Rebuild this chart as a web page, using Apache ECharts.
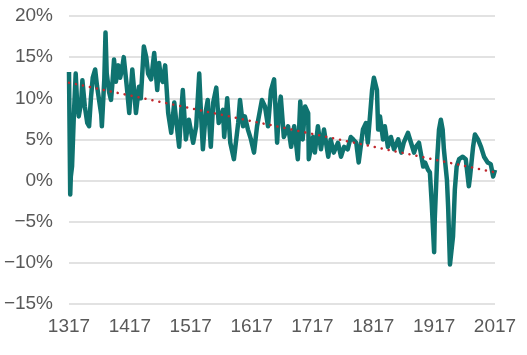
<!DOCTYPE html>
<html>
<head>
<meta charset="utf-8">
<script src="https://cdn.jsdelivr.net/npm/echarts@6/dist/echarts.min.js"></script>
<style>
  html, body { margin: 0; padding: 0; background: #fff; }
  #chart { width: 527px; height: 355px; }
</style>
</head>
<body>
<div id="chart"></div>
<script>
// years and values (%)
const years = [
  1317, 1319, 1320, 1322, 1325, 1328, 1330, 1333, 1337, 1339, 1343, 1347, 1350, 1353, 1356, 1360,
  1363, 1366, 1370, 1371, 1375, 1377, 1379, 1383, 1386, 1388, 1391, 1394, 1398, 1401, 1404, 1407,
  1412, 1416, 1421, 1424, 1427, 1432, 1435, 1440, 1444, 1447, 1452, 1457, 1462, 1465, 1468, 1471,
  1475, 1480, 1485, 1490, 1493, 1498, 1501, 1504, 1509, 1514, 1521, 1526, 1531, 1534, 1537, 1542,
  1545, 1550, 1554, 1559, 1563, 1570, 1572, 1577, 1582, 1588, 1595, 1598, 1603, 1606, 1611, 1616,
  1621, 1626, 1629, 1634, 1639, 1644, 1649, 1654, 1659, 1662, 1665, 1670, 1677, 1682, 1687, 1693,
  1697, 1701, 1705, 1710, 1711, 1718, 1721, 1726, 1731, 1736, 1743, 1747, 1752, 1759, 1764, 1769,
  1775, 1780, 1784, 1789, 1793, 1800, 1805, 1808, 1812, 1815, 1818, 1823, 1825, 1828, 1833, 1836,
  1841, 1846, 1851, 1858, 1863, 1867, 1874, 1879, 1884, 1887, 1892, 1895, 1899, 1902, 1907, 1910,
  1913, 1917, 1918, 1922, 1925, 1928, 1931, 1933, 1938, 1940, 1943, 1948, 1951, 1954, 1958, 1964,
  1969, 1974, 1976, 1981, 1984, 1989, 1994, 1999, 2005, 2010, 2014, 2017
];
const rates = [
  13.2, -1.7, 0.5, 1.7, 8, 13, 10, 7.8, 9.5, 12.2, 9, 7, 6.6, 10, 12.5, 13.5,
  11.5, 11.4, 8, 6.6, 12.3, 18, 13, 10.7, 9.8, 11.5, 14.7, 12, 14, 12.5, 13.5, 15,
  11.4, 8.2, 13.5, 11, 8.2, 11.4, 10, 16.3, 15, 13, 12.3, 15.5, 11, 14.3, 12.5, 12,
  14, 8.2, 5.8, 9.5, 7.4, 4.1, 8, 11, 5, 7.4, 4.6, 6.6, 13, 8, 3.8, 8.5,
  9.8, 4.1, 9.5, 11.3, 7, 8.6, 5.3, 10, 4.6, 2.6, 7, 9.8, 6.6, 7.8, 6.2, 5,
  3.4, 6.6, 7.8, 9.8, 9, 6.6, 11, 12.3, 4.6, 8.6, 10.2, 5.3, 6.6, 4.1, 6.6, 2.6,
  9.6, 5, 9, 8.2, 2.6, 5.3, 3.4, 6.6, 3.8, 6.2, 2.9, 5, 3.4, 4.6, 2.9, 4.1,
  3.8, 5.3, 5, 4.6, 2.2, 6.2, 7, 4.6, 8.2, 11, 12.5, 11, 6.2, 7.8, 5, 6.6,
  4.1, 5.3, 3.8, 5, 3.4, 4.6, 5.8, 4.6, 3.4, 4.1, 4.6, 3.4, 1.7, 2.2, 1.3, 1,
  -2.7, -8.7, -4.7, 2.6, 6.2, 7.4, 6.2, 3.8, 0.1, -3.2, -10.2, -6.8, -1.1, 1.7, 2.6, 2.9,
  2.6, -0.7, 0.5, 4.1, 5.6, 5, 4.1, 2.9, 2.2, 2, 0.5, 1.3
];
// linear trend end points
const trendYears = [1317, 2017];
const trendRates = [11.9, 1.0];

const xTicks = [1317, 1417, 1517, 1617, 1717, 1817, 1917, 2017];

const chart = echarts.init(document.getElementById("chart"));

const labelStyle = {
  color: "#595959",
  fontSize: 19,
  fontFamily: "Liberation Sans, sans-serif",
};

chart.setOption({
  animation: false,
  grid: { left: 69, right: 32, top: 16, bottom: 51 },
  xAxis: {
    type: "value",
    min: 1317,
    max: 2017,
    axisLine: { show: false },
    axisTick: { show: false },
    splitLine: { show: false },
    axisLabel: {
      ...labelStyle,
      margin: 13,
      customValues: xTicks,
      formatter: (v) => String(v),
    },
  },
  yAxis: {
    type: "value",
    min: -15,
    max: 20,
    interval: 5,
    axisLine: { show: false },
    axisTick: { show: false },
    splitLine: { lineStyle: { color: "#d9d9d9", width: 1.5 } },
    axisLabel: {
      ...labelStyle,
      margin: 16,
      formatter: (v) => (v < 0 ? "\u2212" + Math.abs(v) : v) + "%",
    },
  },
  series: [
    {
      type: "line",
      data: years.map((y, i) => [y, rates[i]]),
      symbol: "none",
      lineStyle: { color: "#0f7370", width: 4.5, join: "round" },
    },
    {
      type: "line",
      data: trendYears.map((y, i) => [y, trendRates[i]]),
      symbol: "none",
      lineStyle: { color: "#c0282d", width: 2.5, type: [0.1, 7], cap: "round" },
    },
  ],
});
</script>
</body>
</html>
